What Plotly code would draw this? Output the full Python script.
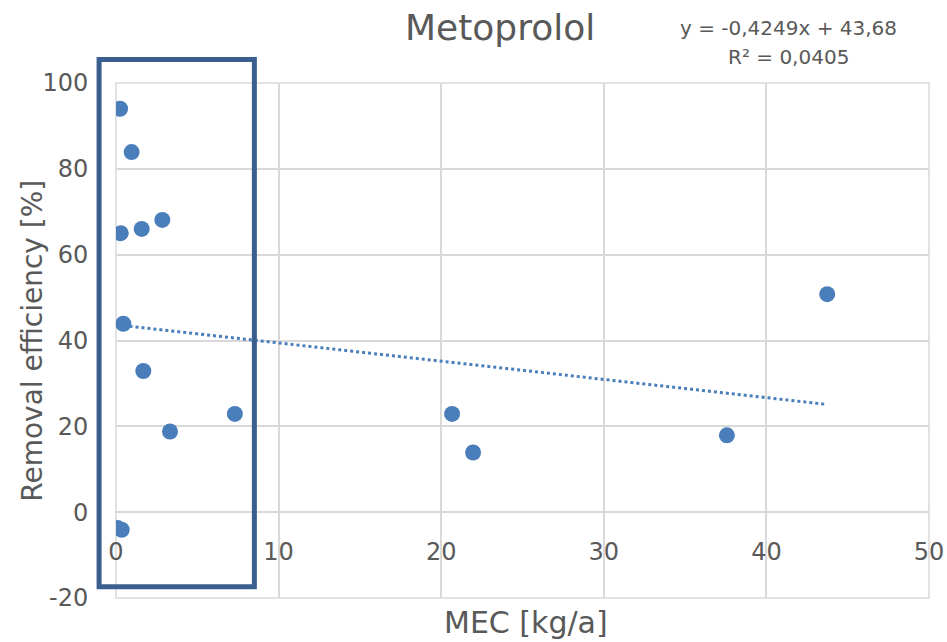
import plotly.graph_objects as go
import numpy as np

# Data
mec = [0.25, 0.96, 0.29, 1.58, 2.85, 0.45, 1.68, 3.32, 7.31, 0.10, 0.35, 20.67, 21.96, 37.57, 43.74]
removal = [94.0, 83.9, 65.0, 66.0, 68.1, 43.9, 32.9, 18.8, 22.9, -3.7, -4.1, 22.9, 13.9, 17.9, 50.8]

slope = -0.4249
intercept = 43.68
r2_text = "R² = 0,0405"
eq_text = "y = -0,4249x + 43,68"

x_ticks = [0, 10, 20, 30, 40, 50]
y_ticks = [-20, 0, 20, 40, 60, 80, 100]
x_range = [0, 50]
y_range = [-20, 100]

# highlight box (data units)
box_x = [-1.04, 8.51]
box_y = [-17.4, 105.5]

FONT = "DejaVu Sans"
GRAY = "#595959"
BLUE = "#4A7EBB"
GRID = "#D9D9D9"


def px(v):
    return (v - x_range[0]) / (x_range[1] - x_range[0])


def py(v):
    return (v - y_range[0]) / (y_range[1] - y_range[0])


trend_x = np.array([min(mec), max(mec)])
trend_y = slope * trend_x + intercept

fig = go.Figure()
fig.add_trace(go.Scatter(
    x=trend_x, y=trend_y, mode="lines",
    line=dict(color=BLUE, width=3, dash="dot"),
    hoverinfo="skip", showlegend=False))
fig.add_trace(go.Scatter(
    x=mec, y=removal, mode="markers",
    marker=dict(color=BLUE, size=16, line=dict(width=0)),
    showlegend=False))

# plot-area frame (edge gridlines)
fig.add_shape(type="rect", xref="paper", yref="paper", x0=0, x1=1, y0=0, y1=1,
              line=dict(color=GRID, width=1.5), layer="below")

fig.add_shape(type="rect", xref="paper", yref="paper",
              x0=px(box_x[0]), x1=px(box_x[1]), y0=py(box_y[0]), y1=py(box_y[1]),
              line=dict(color="#3A5F8F", width=5), layer="above")

fig.update_layout(
    width=947, height=642,
    margin=dict(l=116, r=18, t=83, b=44),
    paper_bgcolor="white", plot_bgcolor="white",
    font=dict(family=FONT, color=GRAY),
    xaxis=dict(range=x_range, tickvals=x_ticks, ticktext=[str(v) for v in x_ticks],
               showgrid=True, gridcolor=GRID, gridwidth=1.5,
               zeroline=False, showline=False, automargin=False,
               anchor="free", position=py(0),
               ticks="outside", ticklen=18, tickcolor="rgba(0,0,0,0)",
               tickfont=dict(size=24, color=GRAY, family=FONT)),
    yaxis=dict(range=y_range, tickvals=y_ticks, ticktext=[str(v) for v in y_ticks],
               showgrid=True, gridcolor=GRID, gridwidth=1.5,
               zeroline=False, showline=False, automargin=False,
               ticks="outside", ticklen=22, tickcolor="rgba(0,0,0,0)",
               tickfont=dict(size=24, color=GRAY, family=FONT)),
    annotations=[
        dict(text="Metoprolol", xref="paper", yref="paper", x=0.472, y=1.107,
             xanchor="center", yanchor="middle", showarrow=False,
             font=dict(size=36, color=GRAY, family=FONT)),
        dict(text=eq_text, xref="paper", yref="paper", x=0.8266, y=1.1067,
             xanchor="center", yanchor="middle", showarrow=False,
             font=dict(size=20, color=GRAY, family=FONT)),
        dict(text=r2_text, xref="paper", yref="paper", x=0.8266, y=1.0504,
             xanchor="center", yanchor="middle", showarrow=False,
             font=dict(size=20, color=GRAY, family=FONT)),
        dict(text="MEC [kg/a]", xref="paper", yref="paper", x=0.504, y=-0.048,
             xanchor="center", yanchor="middle", showarrow=False,
             font=dict(size=30, color=GRAY, family=FONT)),
        dict(text="Removal efficiency [%]", xref="paper", yref="paper", x=-0.103, y=0.5,
             xanchor="center", yanchor="middle", showarrow=False, textangle=-90,
             font=dict(size=28, color=GRAY, family=FONT)),
    ],
)

fig.write_html("out.html")
